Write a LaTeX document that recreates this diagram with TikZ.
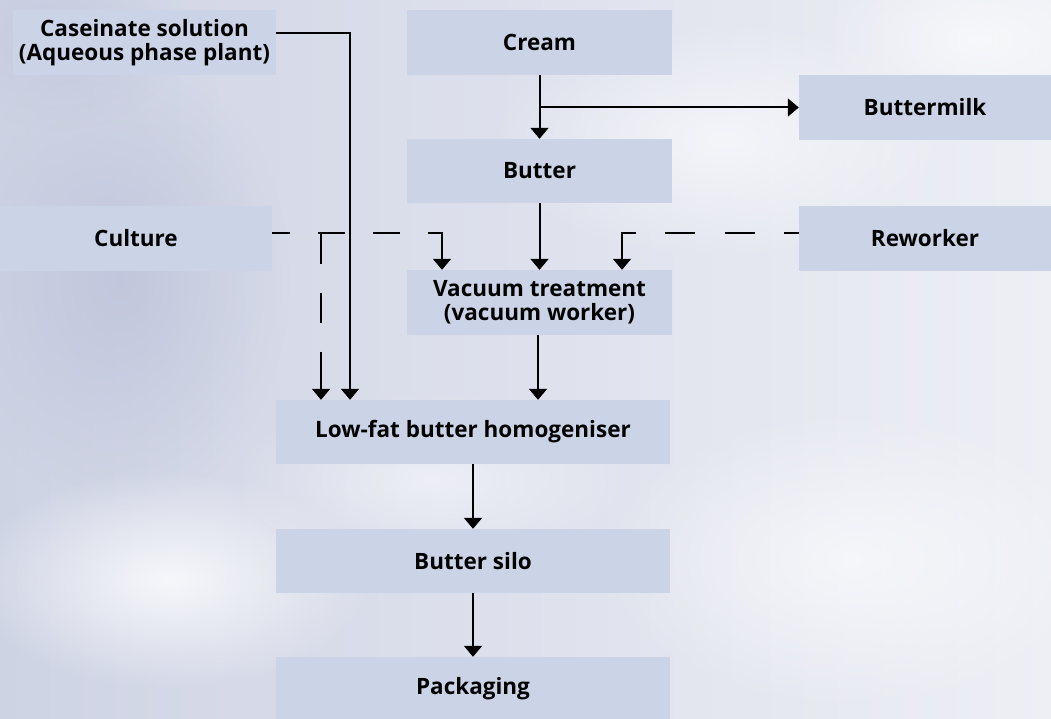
\documentclass[tikz,border=0pt]{standalone}
\usepackage{fontspec}
\setmainfont{Open Sans}
\usetikzlibrary{arrows.meta,fadings,calc}
\definecolor{boxc}{RGB}{203,211,230}
\definecolor{bgL}{RGB}{206,211,228}
\definecolor{bgR}{RGB}{238,239,245}
\definecolor{bgD}{RGB}{186,192,216}
\tikzfading[name=fuzzy, inner color=transparent!0, outer color=transparent!100]
\begin{document}
\begin{tikzpicture}[x=1pt,y=-1pt,
  box/.style={fill=boxc, minimum height=65pt, inner sep=0pt, align=center,
    font=\bfseries\fontsize{22.5}{24}\selectfont},
  flow/.style={line width=2pt, -{Triangle[width=18pt,length=11pt]}}]
\useasboundingbox (0,0) rectangle (1051,719);
% background
\shade[left color=bgL, right color=bgR] (0,0) rectangle (1051,719);
\fill[bgD, opacity=0.7, path fading=fuzzy] (120,280) ellipse [x radius=170, y radius=230];
\fill[bgD, opacity=0.5, path fading=fuzzy] (60,40) ellipse [x radius=120, y radius=90];
\fill[white, opacity=0.8, path fading=fuzzy] (170,580) ellipse [x radius=200, y radius=110];
\fill[white, opacity=0.6, path fading=fuzzy] (720,140) ellipse [x radius=230, y radius=120];
\fill[white, opacity=0.6, path fading=fuzzy] (980,40) ellipse [x radius=160, y radius=90];
\fill[white, opacity=0.6, path fading=fuzzy] (850,560) ellipse [x radius=250, y radius=150];
\fill[white, opacity=0.5, path fading=fuzzy] (430,480) ellipse [x radius=200, y radius=90];
% nodes
\node[box, minimum width=263pt] (cas)   at (144.5,42.5) {Caseinate solution\\(Aqueous phase plant)};
\node[box, minimum width=265pt] (cream) at (539.5,42.5) {Cream};
\node[box, minimum width=252pt] (bm)    at (925,107.5) {Buttermilk};
\node[box, minimum width=265pt, minimum height=64pt] (butter) at (539.5,171) {Butter};
\node[box, minimum width=272pt] (cult)  at (136,238.5) {Culture};
\node[box, minimum width=252pt] (rew)   at (925,238.5) {Reworker};
\node[box, minimum width=265pt] (vac)   at (539.5,302.5) {Vacuum treatment\\(vacuum worker)};
\node[box, minimum width=394pt, minimum height=64pt] (homo) at (473,432) {Low-fat butter homogeniser};
\node[box, minimum width=394pt, minimum height=64pt] (silo) at (473,561) {Butter silo};
\node[box, minimum width=394pt, minimum height=64pt] (pack) at (473,689) {Packaging};
% coordinates
\coordinate (casA) at ($(cas.east)+(0,-9.5)$);
\coordinate (casB) at (350,33);
\coordinate (brA) at (cream.south |- bm.west);
\coordinate (cuA) at (272,233.5);
\coordinate (cuB) at (442,233.5);
\coordinate (cuD) at (321,233.5);
\coordinate (rwA) at (799,233.5);
\coordinate (rwB) at (622,233.5);
\coordinate (vacS) at (538,335);
% connectors
\draw[flow] (cream.south) -- (butter.north);
\draw[flow] ([xshift=1pt]brA) -- (bm.west);
\draw[flow] (butter.north |- butter.south) -- (butter.north |- vac.north);
\draw[flow] (casA) -- (casB) -- (casB |- homo.north);
\draw[flow, dash pattern=on 18pt off 28pt on 27pt off 28pt on 27pt off 28pt on 500pt off 1pt]
  (cuA) -- (cuB) -- (cuB |- vac.north);
\draw[flow, dash pattern=on 30pt off 29pt on 30pt off 29pt on 500pt off 1pt]
  (cuD) -- (cuD |- homo.north);
\draw[flow, dash pattern=on 15pt off 29pt on 30pt off 30pt on 30pt off 29pt on 500pt off 1pt]
  (rwA) -- (rwB) -- (rwB |- vac.north);
\draw[flow] (vacS) -- (vacS |- homo.north);
\draw[flow] (homo.south) -- (silo.north);
\draw[flow] (silo.south) -- (pack.north);
\end{tikzpicture}
\end{document}
